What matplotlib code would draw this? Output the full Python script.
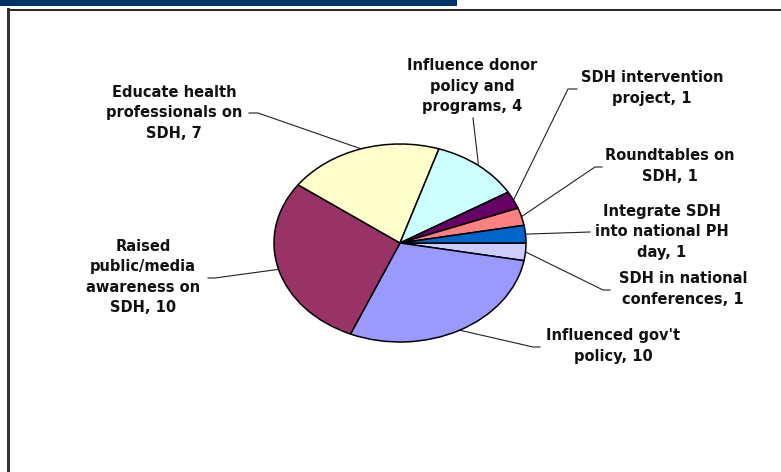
import matplotlib.pyplot as plt
import numpy as np

# slices, clockwise from 3 o'clock
labels = ["SDH in national\nconferences, 1",
          "Influenced gov't\npolicy, 10",
          "Raised\npublic/media\nawareness on\nSDH, 10",
          "Educate health\nprofessionals on\nSDH, 7",
          "Influence donor\npolicy and\nprograms, 4",
          "SDH intervention\nproject, 1",
          "Roundtables on\nSDH, 1",
          "Integrate SDH\ninto national PH\nday, 1"]
values = [1, 10, 10, 7, 4, 1, 1, 1]
colors = ['#CCCCFF', '#9999FF', '#993366', '#FFFFCC',
          '#CCFFFF', '#660066', '#FF8080', '#0066CC']

# label centres and leader-line start (pixels from top-left)
text_pos = [(683, 289), (613, 346), (143, 277), (174, 113),
            (472, 86), (652, 88), (670, 166), (662, 232)]
leader_start = [[(610, 290), (603, 290)], [(540, 347), (533, 347)],
                [(208, 278), (215, 278)], [(249, 113), (258, 113)],
                [(473, 118)], [(577, 89), (568, 89)],
                [(602, 167), (595, 167)], [(590, 232)]]

W, H = 781, 472
fig = plt.figure(figsize=(W / 100, H / 100), dpi=100)

# overlay in pixel coords
bg = fig.add_axes([0, 0, 1, 1])
bg.set_xlim(0, W)
bg.set_ylim(H, 0)
bg.axis('off')
bg.add_patch(plt.Rectangle((0, 0), 457, 6, color='#003366', lw=0))
bg.plot([8, W], [9.5, 9.5], color='black', lw=1.2)
bg.plot([8, 8], [9, H], color='#333333', lw=2.2)

# pie, stretched into an ellipse
cx, cy, rx, ry = 400, 243, 126, 99
ax = fig.add_axes([(cx - rx) / W, (H - cy - ry) / H, 2 * rx / W, 2 * ry / H])
wedges, _ = ax.pie(values, colors=colors, startangle=0, counterclock=False,
                   radius=1, wedgeprops=dict(edgecolor='black', linewidth=1.1))
ax.set_aspect('auto')
ax.set_xlim(-1, 1)
ax.set_ylim(-1, 1)
ax.axis('off')

total = sum(values)
cum = np.cumsum([0] + values)
for i, lab in enumerate(labels):
    mid = -(cum[i] + values[i] / 2) / total * 2 * np.pi
    px = cx + rx * np.cos(mid)
    py = cy - ry * np.sin(mid)
    pts = leader_start[i] + [(px, py)]
    bg.plot([p[0] for p in pts], [p[1] for p in pts], color='#222222', lw=0.8)
    bg.text(text_pos[i][0], text_pos[i][1], lab, ha='center', va='center',
            multialignment='center', fontsize=10.5, fontweight='bold',
            family='DejaVu Sans', color='#111111', linespacing=1.45)

fig.savefig('out.png', dpi=100)
